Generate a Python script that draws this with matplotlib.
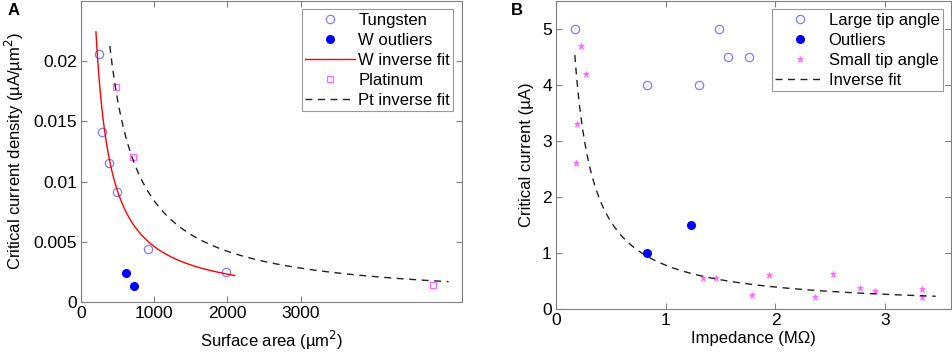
import numpy as np
import matplotlib.pyplot as plt

plt.rcParams['font.family'] = ['Liberation Sans', 'DejaVu Sans']
plt.rcParams['font.size'] = 11

# Panel A data
w_area = [245, 282, 386, 491, 918, 1986]
w_dens = [0.0206, 0.0141, 0.0115, 0.0091, 0.0044, 0.0025]
w_out_area = [618, 727]
w_out_dens = [0.0024, 0.00135]
pt_area = [477, 705, 4805]
pt_dens = [0.01785, 0.01205, 0.00143]
w_fit_a = 4.6
w_fit_range = [205, 2100]
pt_fit_a = 8.4
pt_fit_range = [395, 5020]

# Panel B data
large_imp = [0.176, 0.83, 1.307, 1.489, 1.571, 1.763]
large_cur = [5.0, 4.0, 4.0, 5.0, 4.5, 4.5]
out_imp = [0.83, 1.228]
out_cur = [1.0, 1.5]
small_imp = [0.231, 0.274, 0.188, 0.182, 1.340, 1.459, 1.784, 1.942,
             2.356, 2.523, 2.772, 2.903, 3.337, 3.337]
small_cur = [4.70, 4.20, 3.30, 2.60, 0.55, 0.55, 0.255, 0.60,
             0.21, 0.63, 0.37, 0.315, 0.355, 0.215]
inv_fit_a = 0.78
inv_fit_range = [0.172, 3.46]

light_blue = '#7f7fff'
pink = '#ff66ff'
frame = '#808080'

fig = plt.figure(figsize=(9.52, 3.53), dpi=100)
axA = fig.add_axes([0.085, 0.145, 0.400, 0.852])
axB = fig.add_axes([0.584, 0.125, 0.415, 0.872])


def style(ax):
    for s in ax.spines.values():
        s.set_color(frame)
        s.set_linewidth(0.8)
    ax.tick_params(direction='in', top=True, right=True, color=frame,
                   length=4, labelsize=12.5, pad=3)


# A
xw = np.linspace(w_fit_range[0], w_fit_range[1], 300)
xp = np.linspace(pt_fit_range[0], pt_fit_range[1], 300)
axA.plot(w_area, w_dens, 'o', mfc='none', mec=light_blue, ms=6, mew=0.9,
         label='Tungsten')
axA.plot(w_out_area, w_out_dens, 'o', color='#0000ff', ms=5.5,
         label='W outliers')
axA.plot(xw, w_fit_a / xw, '-', color='#ff0000', lw=1, label='W inverse fit')
axA.plot(pt_area, pt_dens, 's', mfc='none', mec=pink, ms=5, mew=0.9,
         label='Platinum')
axA.plot(xp, pt_fit_a / xp, '--', color='#222222', lw=1, dashes=(5, 4),
         label='Pt inverse fit')
axA.set_xlim(0, 5200)
axA.set_ylim(0, 0.025)
axA.set_xticks([0, 1000, 2000, 3000])
axA.set_yticks([0, 0.005, 0.01, 0.015, 0.02])
axA.set_yticklabels(['0', '0.005', '0.01', '0.015', '0.02'])
axA.set_xlabel('Surface area (\u00b5m$^2$)', fontsize=12, labelpad=6)
axA.set_ylabel('Critical current density (\u00b5A/\u00b5m$^2$)', fontsize=12,
               labelpad=5)
style(axA)
legA = axA.legend(loc='upper right', fontsize=12, frameon=True, fancybox=False,
                  edgecolor=frame, handlelength=3.0, handletextpad=0.2,
                  borderaxespad=0.5, labelspacing=0.3, borderpad=0.2)
legA.get_frame().set_linewidth(0.8)

# B
xi = np.linspace(inv_fit_range[0], inv_fit_range[1], 300)
axB.plot(large_imp, large_cur, 'o', mfc='none', mec=light_blue, ms=6, mew=0.9,
         label='Large tip angle')
axB.plot(out_imp, out_cur, 'o', color='#0000ff', ms=5.5, label='Outliers')
axB.plot(small_imp, small_cur, '*', color=pink, ms=5, mew=0.5,
         label='Small tip angle')
axB.plot(xi, inv_fit_a / xi, '--', color='#222222', lw=1, dashes=(5, 4),
         label='Inverse fit')
axB.set_xlim(0, 3.6)
axB.set_ylim(0, 5.5)
axB.set_xticks([0, 1, 2, 3])
axB.set_yticks([0, 1, 2, 3, 4, 5])
axB.set_xlabel('Impedance (M\u03a9)', fontsize=12, labelpad=2)
axB.set_ylabel('Critical current (\u00b5A)', fontsize=12, labelpad=6)
style(axB)
legB = axB.legend(loc='upper right', fontsize=12, frameon=True, fancybox=False,
                  edgecolor=frame, handlelength=3.0, handletextpad=0.2,
                  borderaxespad=0.5, labelspacing=0.3, borderpad=0.2)
legB.get_frame().set_linewidth(0.8)

fig.text(0.008, 0.97, 'A', fontsize=12, fontweight='bold', va='center')
fig.text(0.537, 0.97, 'B', fontsize=12, fontweight='bold', va='center')

fig.savefig('out.png', dpi=100)
